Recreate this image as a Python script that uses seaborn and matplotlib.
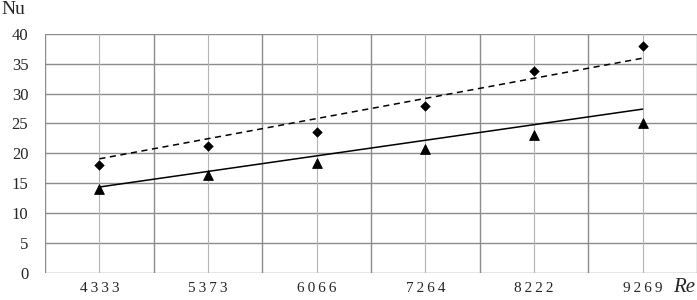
import numpy as np
import pandas as pd
import matplotlib
matplotlib.use("Agg")
import matplotlib.pyplot as plt
import seaborn as sns

# values
re_labels = ["4333", "5373", "6066", "7264", "8222", "9269"]
nu_diamond = [18.1, 21.3, 23.5, 27.9, 33.7, 38.0]
nu_triangle = [14.0, 16.4, 18.4, 20.7, 23.1, 25.0]
# trend line end points (first and last category)
trend_dashed = [19.1, 35.9]
trend_solid = [14.4, 27.4]

sns.set_style("white")
plt.rcParams["font.family"] = ["Liberation Serif", "DejaVu Serif"]

pos = np.arange(1, len(re_labels) + 1)
df = pd.DataFrame({"x": pos, "d": nu_diamond, "t": nu_triangle})
tr = pd.DataFrame({"x": [pos[0], pos[-1]], "dash": trend_dashed, "solid": trend_solid})

fig = plt.figure(figsize=(6.97, 3.0), dpi=100)
ax = fig.add_axes([0.0646, 0.089, 0.9354, 0.799])

# grid
for v in range(0, 45, 5):
    ax.axhline(v, color="#8c8c8c", lw=1.0, zorder=0)
for b in np.arange(0.5, len(re_labels) + 1, 1.0):
    ax.axvline(b, color="#8c8c8c", lw=1.0, zorder=0)
for p in pos:
    ax.axvline(p, color="#b4b4b4", lw=0.8, zorder=0)

sns.lineplot(data=tr, x="x", y="dash", ax=ax, color="black", lw=1.1,
             linestyle=(0, (4, 3)), zorder=2)
sns.lineplot(data=tr, x="x", y="solid", ax=ax, color="black", lw=1.1, zorder=2)
sns.scatterplot(data=df, x="x", y="d", ax=ax, marker="D", s=24, color="black",
                edgecolor="black", zorder=3)
sns.scatterplot(data=df, x="x", y="t", ax=ax, marker="^", s=50, color="black",
                edgecolor="black", zorder=3)

ax.set_xlim(0.5, len(re_labels) + 0.5)
ax.set_ylim(0, 40)
ax.set_yticks(range(0, 45, 5))
ax.set_xticks(pos)
ax.set_xticklabels(["\u2009".join(s) for s in re_labels], fontsize=11)
ax.tick_params(axis="y", labelsize=12, length=0, pad=12)
ax.tick_params(axis="x", length=0, pad=6)
ax.set_xlabel("")
ax.set_ylabel("")
for s in ax.spines.values():
    s.set_visible(False)

fig.text(0.002, 0.97, "Nu", fontsize=14, va="center", ha="left")
fig.text(0.997, 0.04, "Re", fontsize=15, style="italic", va="center", ha="right")

fig.savefig("out.png", dpi=100)
